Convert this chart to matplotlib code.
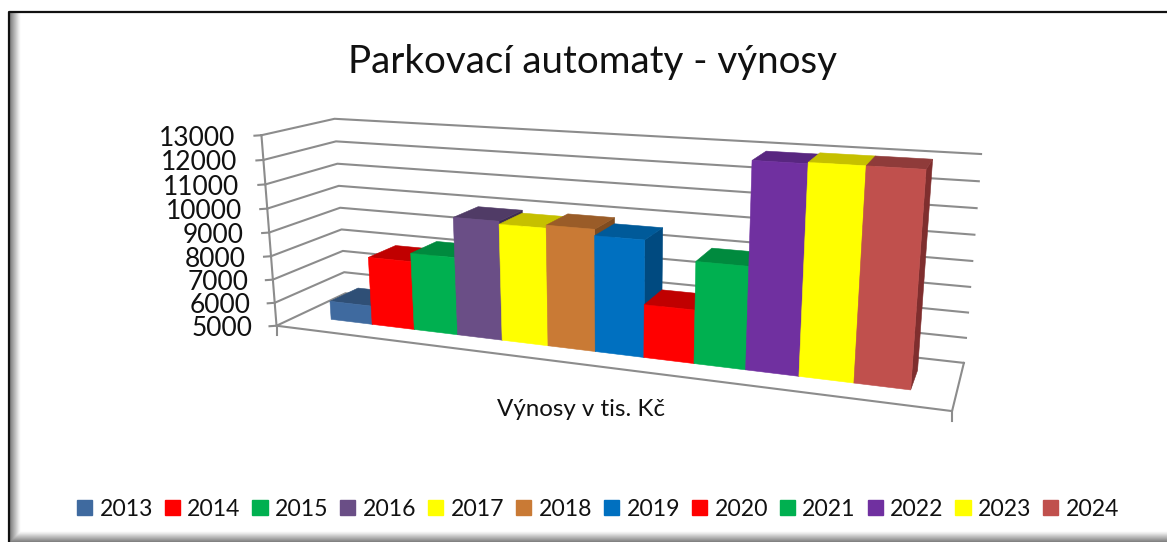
import numpy as np
import matplotlib
matplotlib.use('Agg')
import matplotlib.pyplot as plt
from matplotlib.patches import Polygon, Patch

plt.rcParams['font.family'] = ['Lato', 'DejaVu Sans']

years = ['2013', '2014', '2015', '2016', '2017', '2018', '2019', '2020', '2021', '2022', '2023', '2024']
values = [5800, 7900, 8250, 9900, 9780, 9900, 9650, 7120, 9000, 12900, 12950, 12950]
ticks = [5000, 6000, 7000, 8000, 9000, 10000, 11000, 12000, 13000]

front_cols = ['#3F6A9F', '#FF0000', '#00B050', '#6A4E86', '#FFFF00', '#C97A35', '#0070C0',
              '#FF0000', '#00B050', '#7030A0', '#FFFF00', '#C0504D']
top_cols = ['#2F4F76', '#C00000', '#008A3E', '#503B66', '#C6C000', '#9A5C28', '#005A99',
            '#C00000', '#008A3E', '#582680', '#C6C000', '#8F3B3A']
side_cols = ['#2A4669', '#A00000', '#007534', '#3F2E52', '#A8A300', '#7F4C20', '#004A80',
             '#A00000', '#007534', '#4A2070', '#A8A300', '#7F2E2E']

# chart box corners as seen in the picture: (x, depth, height) -> pixel
box = [((0, 0, 0), (277, 326)), ((1, 0, 0), (952, 411)), ((1, 1, 0), (964, 363)), ((0, 1, 0), (345, 293)),
       ((0, 0, 1), (261, 135)), ((0, 1, 1), (335, 119)), ((1, 1, 1), (981, 154))]

rows = []
for (X, Y, Z), (u, v) in box:
    rows.append([X, Y, Z, 1, 0, 0, 0, 0, -u*X, -u*Y, -u*Z, -u])
    rows.append([0, 0, 0, 0, X, Y, Z, 1, -v*X, -v*Y, -v*Z, -v])
cam = np.linalg.svd(np.array(rows, dtype=float))[2][-1].reshape(3, 4)


def proj(x, d, val):
    h = (val - ticks[0]) / (ticks[-1] - ticks[0])
    p = cam @ np.array([x, d, h, 1.0])
    return p[0] / p[2], p[1] / p[2]


fig = plt.figure(figsize=(11.67, 5.42), dpi=100)
ax = fig.add_axes([0, 0, 1, 1])
ax.set_xlim(0, 1167)
ax.set_ylim(542, 0)
ax.axis('off')

# frame with soft inner shadow
for i in range(10):
    g = 0.5 + 0.05 * i
    ax.plot([10 + i, 10 + i], [12, 541 - i], color=str(g), lw=1, zorder=1)
    ax.plot([10 + i, 1167], [541 - i, 541 - i], color=str(g), lw=1, zorder=1)
ax.plot([9, 9, 1167], [542, 11.5, 11.5], color='#111111', lw=1.6, zorder=2)

grid = '#8C8C8C'
for t in ticks:
    a, b, c = proj(0, 0, t), proj(0, 1, t), proj(1, 1, t)
    ax.plot([a[0], b[0], c[0]], [a[1], b[1], c[1]], color=grid, lw=1.5, zorder=3)
    ax.plot([a[0] - 7, a[0]], [a[1] + 0.5, a[1]], color=grid, lw=1.5, zorder=3)
    ax.text(a[0] - 24 - (t - 5000) * 0.0003, a[1] + 3, str(t), ha='right', va='center', fontsize=19, color='#111111')
p0, p1, p2, p3 = proj(0, 0, ticks[-1]), proj(0, 0, ticks[0]), proj(1, 0, ticks[0]), proj(1, 1, ticks[0])
ax.plot([p0[0], p1[0], p2[0], p3[0]], [p0[1], p1[1], p2[1], p3[1]], color=grid, lw=1.5, zorder=3)
ax.plot([p1[0], p1[0]], [p1[1], p1[1] + 9], color=grid, lw=1.5, zorder=3)
ax.plot([p2[0], p2[0]], [p2[1], p2[1] + 10], color=grid, lw=1.5, zorder=3)

# bars
d0, d1 = 0.30, 0.72
x_start, x_end = 0.060, 0.943
step = (x_end - x_start) / len(values)
for i, val in enumerate(values):
    x0, x1 = x_start + i * step, x_start + (i + 1) * step
    side = [proj(x1, d0, 5000), proj(x1, d1, 5000), proj(x1, d1, val), proj(x1, d0, val)]
    top = [proj(x0, d0, val), proj(x1, d0, val), proj(x1, d1, val), proj(x0, d1, val)]
    front = [proj(x0, d0, 5000), proj(x1, d0, 5000), proj(x1, d0, val), proj(x0, d0, val)]
    z = 4 + i
    ax.add_patch(Polygon(side, fc=side_cols[i], ec=side_cols[i], lw=0.4, zorder=z))
    ax.add_patch(Polygon(top, fc=top_cols[i], ec=top_cols[i], lw=0.4, zorder=z))
    ax.add_patch(Polygon(front, fc=front_cols[i], ec=front_cols[i], lw=0.4, zorder=z))

ax.text(593, 62, 'Parkovací automaty - výnosy', ha='center', va='center', fontsize=27.7, color='#111111')
ax.text(581, 410, 'Výnosy v tis. Kč', ha='center', va='center', fontsize=17.4, color='#111111')

handles = [Patch(fc=c, ec=c, label=y) for c, y in zip(front_cols, years)]
ax.legend(handles=handles, ncol=12, loc='center', bbox_to_anchor=(598 / 1167, 1 - 509 / 542), frameon=False,
          fontsize=16.6, handlelength=0.66, handleheight=0.66, handletextpad=0.32, columnspacing=0.51,
          labelcolor='#111111')

fig.savefig('out.png', dpi=100)
